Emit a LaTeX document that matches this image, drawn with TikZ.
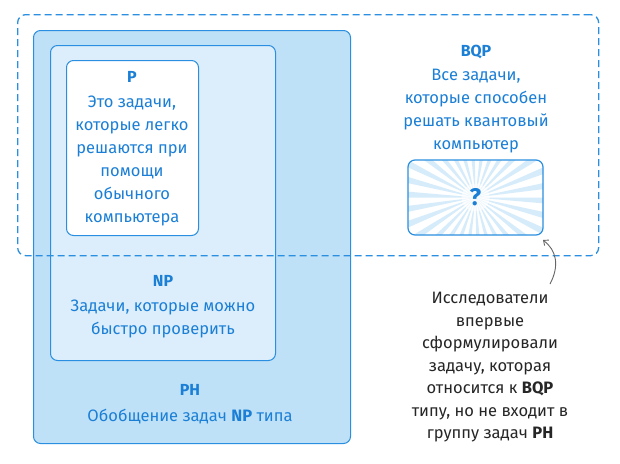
\documentclass[tikz,border=0pt]{standalone}
\usepackage{fontspec}
\setmainfont{Fira Sans}
\usetikzlibrary{arrows.meta}
\begin{document}
\begin{tikzpicture}[x=1pt,y=-1pt,
  txt/.style={text=blueT,font=\fontsize{16.5}{23}\selectfont,align=center},
  lbl/.style={text=blueT,font=\fontsize{16}{18}\selectfont\bfseries},
  boxx/.style={draw=blueB,line width=1pt,rounded corners=7pt}]
\definecolor{blueT}{HTML}{1B7FD6}
\definecolor{blueB}{HTML}{2A8FE0}
\definecolor{phF}{HTML}{BFE1F7}
\definecolor{npF}{HTML}{DCEEFB}
\definecolor{ray}{HTML}{D6ECFA}
\useasboundingbox (0,0) rectangle (620,463);
\fill[white] (0,0) rectangle (620,463);
\node[boxx,fill=phF,minimum width=317pt,minimum height=413pt,anchor=north west] (ph) at (33,30) {};
\node[boxx,fill=npF,minimum width=225pt,minimum height=315pt,anchor=north west] (np) at (50,45) {};
\node[boxx,fill=white,minimum width=132pt,minimum height=175pt,anchor=north west] (p) at (66,60) {};
\node[draw=blueB,line width=1.3pt,dash pattern=on 7pt off 4pt,rounded corners=8pt,minimum width=581pt,minimum height=241pt,anchor=north west] (bqp) at (17,14) {};
\begin{scope}
\clip[rounded corners=8pt] (408,160) rectangle (543,235);
\fill[white] (408,160) rectangle (543,235);
\foreach \a in {0,12,...,348}{
  \fill[ray] (475.5,197.5) -- ++(\a:150) -- ++(\a+90:13) -- cycle;}
\fill[white,opacity=0.6] (475.5,197.5) circle (14);
\end{scope}
\node[boxx,line width=1.2pt,minimum width=135pt,minimum height=75pt] (q) at (475.5,197.5) {};
\node[text=blueT,font=\fontsize{24}{24}\selectfont\bfseries] (qm) at (475.5,197.5) {?};
\node[lbl] (pl) at (132,77) {P};
\node[txt,anchor=north] (pt) at (132,92) {Это задачи,\\которые легко\\решаются при\\помощи\\обычного\\компьютера};
\node[lbl] (npl) at (163,281) {NP};
\node[txt,anchor=north] (npt) at (163,296) {Задачи, которые можно\\быстро проверить};
\node[lbl] (phl) at (190,390) {PH};
\node[txt] (pht) at (190,417) {Обобщение задач \textbf{NP} типа};
\node[lbl] (bl) at (476,52) {BQP};
\node[txt,anchor=north] (bt) at (476,66) {Все задачи,\\которые способен\\решать квантовый\\компьютер};
\node[font=\fontsize{16.5}{22.5}\selectfont,align=center,text=black!85,anchor=north] (r) at (490,289) {Исследователи\\впервые\\сформулировали\\задачу, которая\\относится к \textbf{BQP}\\типу, но не входит в\\группу задач \textbf{PH}};
\coordinate (s) at (550,284);
\draw[gray!80!black,line width=0.9pt,-{Straight Barb[length=4pt,width=7pt]}] (s) .. controls (560,265) and (556,250) .. (543,240);
\end{tikzpicture}
\end{document}
